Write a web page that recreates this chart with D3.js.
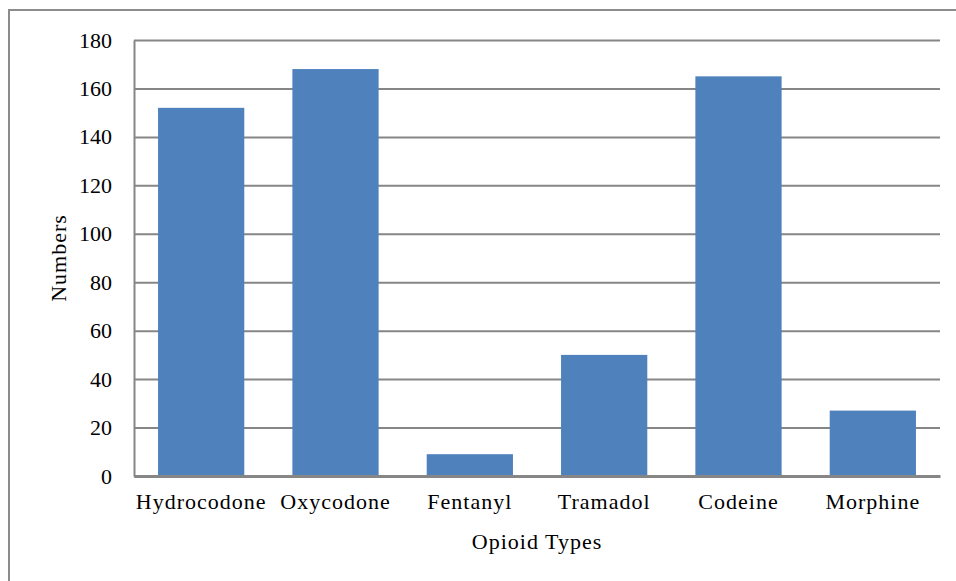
<!DOCTYPE html>
<meta charset="utf-8">
<script src="https://d3js.org/d3.v7.min.js"></script>
<style>
	body{
		margin:0;
		background:#fff;
		font-family:'Liberation Serif', 'Times New Roman', serif;
	}
</style>
<div id="chart"></div>
<script>
// chart data
var opioids = ["Hydrocodone","Oxycodone","Fentanyl","Tramadol","Codeine","Morphine"]
var counts = [152,168,9,50,165,27]
var yTicks = [0,20,40,60,80,100,120,140,160,180]

var w = 956
var h = 581
var pLeft = 134, pRight = 940, pTop = 40, pBottom = 476

var svg = d3.select("#chart").append("svg")
	.attr("width",w)
	.attr("height",h)

// outer frame (runs past the window on right and bottom)
svg.append("rect")
	.attr("x",9).attr("y",10)
	.attr("width",w+20).attr("height",h+20)
	.attr("fill","#fff")
	.attr("stroke","#8c8c8c")
	.attr("stroke-width",2)

var xScale = d3.scaleBand().domain(opioids).range([pLeft,pRight])
	.paddingInner(0.358).paddingOuter(0.179)
var yScale = d3.scaleLinear().domain([0,180]).range([pBottom,pTop])

// gridlines + y labels
var yAxis = d3.axisLeft(yScale).tickValues(yTicks).tickSize(-(pRight-pLeft)).tickSizeOuter(0).tickPadding(22)
var gy = svg.append("g").attr("transform","translate("+pLeft+",0)").call(yAxis)
gy.select(".domain").attr("stroke","#868686").attr("stroke-width",2)
gy.selectAll(".tick line").attr("stroke","#868686").attr("stroke-width",2)
gy.selectAll(".tick text")
	.attr("fill","#000")
	.style("font-family","'Liberation Serif', serif")
	.style("font-size","22px")

// bars
svg.append("g")
	.selectAll("rect")
	.data(opioids)
	.join("rect")
	.attr("x",function(d){ return xScale(d) })
	.attr("width",xScale.bandwidth())
	.attr("y",function(d,i){ return yScale(counts[i]) })
	.attr("height",function(d,i){ return yScale(0)-yScale(counts[i]) })
	.attr("fill","#4f81bd")

// x axis
var xAxis = d3.axisBottom(xScale).tickSize(0).tickPadding(17)
var gx = svg.append("g").attr("transform","translate(0,"+pBottom+")").call(xAxis)
gx.select(".domain").attr("stroke","#868686").attr("stroke-width",3)
gx.selectAll(".tick text")
	.attr("fill","#000")
	.style("font-family","'Liberation Serif', serif")
	.style("font-size","22px")
	.style("letter-spacing","1px")

// axis titles
svg.append("text").text("Opioid Types")
	.attr("x",(pLeft+pRight)/2).attr("y",549)
	.attr("text-anchor","middle")
	.style("font-size","22px")
	.style("letter-spacing","1px")

svg.append("text").text("Numbers")
	.attr("transform","translate(66,"+((pTop+pBottom)/2)+") rotate(-90)")
	.attr("text-anchor","middle")
	.style("font-size","22px")
	.style("letter-spacing","1px")
</script>
